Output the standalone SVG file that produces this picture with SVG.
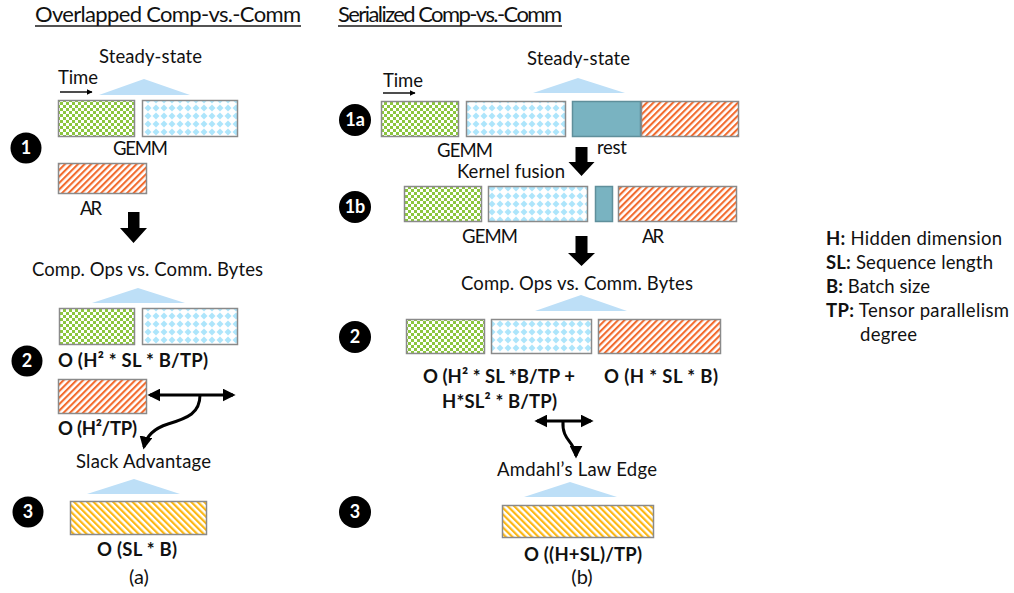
<svg xmlns="http://www.w3.org/2000/svg" width="1014" height="593" viewBox="0 0 1014 593">
<style>
text{font-family:Lato,"Liberation Sans",sans-serif;fill:#111}
.t{font-size:18.5px}
.title{font-size:22px}
.b{font-size:18.5px;font-weight:bold}
.lbl{font-size:20px;text-anchor:middle}
.num{font-size:18px;font-weight:bold;fill:#fff;text-anchor:middle}
.box{stroke:#8a8a8a;stroke-width:1.5}
.tri{fill:#bddff7}
.big{fill:#000}
.conn{fill:none;stroke:#000;stroke-width:3}
.ul{stroke:#1a1a1a;stroke-width:1.3}
</style>
<defs>
<pattern id="chk" width="6" height="6" patternUnits="userSpaceOnUse">
<rect width="6" height="6" fill="#fff"/>
<rect width="3" height="3" fill="#8cc63f"/>
<rect x="3" y="3" width="3" height="3" fill="#8cc63f"/>
</pattern>
<pattern id="dia" width="8" height="8" patternUnits="userSpaceOnUse">
<rect width="8" height="8" fill="#fff"/>
<polygon points="4,0.5 7.5,4 4,7.5 0.5,4" fill="#ade5fb"/>
</pattern>
<pattern id="orn" width="4.6" height="10" patternUnits="userSpaceOnUse" patternTransform="rotate(45)">
<rect width="4.6" height="10" fill="#fff"/>
<rect width="2.1" height="10" fill="#f26b2e"/>
</pattern>
<pattern id="yel" width="4.6" height="10" patternUnits="userSpaceOnUse" patternTransform="rotate(-45)">
<rect width="4.6" height="10" fill="#fff"/>
<rect width="2.2" height="10" fill="#fbb714"/>
</pattern>
<marker id="ah" viewBox="0 0 10 10" refX="8" refY="5" markerWidth="13" markerHeight="13" markerUnits="userSpaceOnUse" orient="auto-start-reverse"><path d="M0,0 L10,5 L0,10 Z" fill="#000"/></marker>
<marker id="ahs" viewBox="0 0 10 10" refX="9" refY="5" markerWidth="6" markerHeight="6" markerUnits="userSpaceOnUse" orient="auto"><path d="M0,0 L10,5 L0,10 Z" fill="#000"/></marker>
</defs>
<rect width="1014" height="593" fill="#fff"/>

<!-- Left panel -->
<g id="title-left">
<text class="title" x="35" y="22" textLength="266">Overlapped Comp-vs.-Comm</text>
<line class="ul" x1="35" y1="26" x2="301" y2="26"/>
</g>
<g id="left-step1">
<circle cx="26" cy="148" r="15.5" fill="#000"/>
<text class="num" x="26" y="154">1</text>
<text class="t" x="99" y="63" textLength="103">Steady-state</text>
<text class="t" x="58" y="84" textLength="40">Time</text>
<polygon class="tri" points="99,95 144,79 190,95"/>
<rect class="box" x="58.5" y="100.5" width="76" height="36" fill="url(#chk)"/>
<rect class="box" x="142.5" y="100.5" width="95" height="36" fill="url(#dia)"/>
<text class="t" x="113" y="155" textLength="55">GEMM</text>
<rect class="box" x="58.5" y="163.5" width="88" height="30" fill="url(#orn)"/>
<text class="t" x="80" y="215" textLength="22">AR</text>
</g>
<g id="left-step2">
<circle cx="27" cy="361" r="15.5" fill="#000"/>
<text class="num" x="27" y="367">2</text>
<text class="t" x="32" y="276" textLength="231">Comp. Ops vs. Comm. Bytes</text>
<polygon class="tri" points="92,303 138,288 185,303"/>
<rect class="box" x="59.5" y="308.5" width="75" height="36" fill="url(#chk)"/>
<rect class="box" x="142.5" y="308.5" width="95" height="36" fill="url(#dia)"/>
<text class="b" x="58" y="367" textLength="150">O (H² * SL * B/TP)</text>
<rect class="box" x="58.5" y="379.5" width="88" height="34" fill="url(#orn)"/>
<text class="b" x="58" y="435" textLength="79">O (H²/TP)</text>
<text class="t" x="76" y="468" textLength="135">Slack Advantage</text>
</g>
<g id="left-step3">
<circle cx="28" cy="512" r="15.5" fill="#000"/>
<text class="num" x="28" y="518">3</text>
<polygon class="tri" points="87,494 134,479 180,494"/>
<rect class="box" x="70.5" y="501.5" width="136" height="33" fill="url(#yel)"/>
<text class="b" x="97" y="556" textLength="80">O (SL * B)</text>
<text class="lbl" x="139" y="584">(a)</text>
</g>

<!-- Right panel -->
<g id="title-right">
<text class="title" x="338" y="22" textLength="224">Serialized Comp-vs.-Comm</text>
<line class="ul" x1="338" y1="26" x2="562" y2="26"/>
</g>
<g id="right-step1a">
<circle cx="355" cy="120" r="16" fill="#000"/>
<text class="num" x="355" y="126">1a</text>
<text class="t" x="527" y="65" textLength="103">Steady-state</text>
<text class="t" x="383" y="87" textLength="40">Time</text>
<polygon class="tri" points="533,93 578,78 625,93"/>
<rect class="box" x="381.5" y="101.5" width="77" height="35" fill="url(#chk)"/>
<rect class="box" x="466.5" y="101.5" width="99" height="35" fill="url(#dia)"/>
<rect x="572.5" y="101.5" width="68" height="35" fill="#79b3c1" stroke="#5f8f9b" stroke-width="1.5"/>
<rect class="box" x="641.5" y="101.5" width="97" height="35" fill="url(#orn)"/>
<text class="t" x="437" y="157" textLength="56">GEMM</text>
<text class="t" x="597" y="154" textLength="30">rest</text>
<text class="t" x="457" y="178" textLength="108">Kernel fusion</text>
</g>
<g id="right-step1b">
<circle cx="355" cy="207" r="16" fill="#000"/>
<text class="num" x="355" y="213">1b</text>
<rect class="box" x="404.5" y="186.5" width="77" height="35" fill="url(#chk)"/>
<rect class="box" x="488.5" y="186.5" width="99" height="35" fill="url(#dia)"/>
<rect x="595.5" y="186.5" width="17" height="35" fill="#79b3c1" stroke="#5f8f9b" stroke-width="1.5"/>
<rect class="box" x="618.5" y="186.5" width="118" height="35" fill="url(#orn)"/>
<text class="t" x="462" y="243" textLength="56">GEMM</text>
<text class="t" x="642" y="243" textLength="22">AR</text>
</g>
<g id="right-step2">
<circle cx="355" cy="337" r="16" fill="#000"/>
<text class="num" x="355" y="343">2</text>
<text class="t" x="461" y="290" textLength="232">Comp. Ops vs. Comm. Bytes</text>
<polygon class="tri" points="535,311 581,295 627,311"/>
<rect class="box" x="406.5" y="319.5" width="78" height="34" fill="url(#chk)"/>
<rect class="box" x="491.5" y="319.5" width="100" height="34" fill="url(#dia)"/>
<rect class="box" x="598.5" y="319.5" width="122" height="34" fill="url(#orn)"/>
<text class="b" x="423" y="383" textLength="152">O (H² * SL *B/TP +</text>
<text class="b" x="442" y="408" textLength="115">H*SL² * B/TP)</text>
<text class="b" x="604" y="383" textLength="114">O (H * SL * B)</text>
<text class="t" x="497" y="476" textLength="160">Amdahl’s Law Edge</text>
</g>
<g id="right-step3">
<circle cx="355" cy="512" r="16" fill="#000"/>
<text class="num" x="355" y="518">3</text>
<polygon class="tri" points="524,497 570,482 617,497"/>
<rect class="box" x="502.5" y="505.5" width="151" height="32" fill="url(#yel)"/>
<text class="b" x="524" y="561" textLength="118">O ((H+SL)/TP)</text>
<text class="lbl" x="582" y="584">(b)</text>
</g>

<!-- Legend -->
<g id="legend">
<text class="t" x="826" y="245" textLength="176"><tspan font-weight="bold">H:</tspan> Hidden dimension</text>
<text class="t" x="826" y="269" textLength="167"><tspan font-weight="bold">SL:</tspan> Sequence length</text>
<text class="t" x="826" y="293" textLength="104"><tspan font-weight="bold">B:</tspan> Batch size</text>
<text class="t" x="826" y="317" textLength="183"><tspan font-weight="bold">TP:</tspan> Tensor parallelism</text>
<text class="t" x="860" y="341" textLength="57">degree</text>
</g>

<!-- Connectors -->
<g id="connectors">
<line x1="60" y1="92" x2="92" y2="92" stroke="#000" stroke-width="1.4" marker-end="url(#ahs)"/>
<line x1="383" y1="93" x2="415" y2="93" stroke="#000" stroke-width="1.4" marker-end="url(#ahs)"/>
<polygon class="big" points="128,212 139.5,212 139.5,228 147,228 133.5,243 120,228 128,228"/>
<polygon class="big" points="575.5,147 587.5,147 587.5,162 594.5,162 581.5,176 568.5,162 575.5,162"/>
<polygon class="big" points="575.5,236 587.5,236 587.5,253 595,253 581.5,266 568,253 575.5,253"/>
<line class="conn" x1="150" y1="395" x2="233" y2="395" marker-start="url(#ah)" marker-end="url(#ah)"/>
<path class="conn" d="M200,395 C200,413 188,418 168,424 C152,429 146,437 144,447" marker-end="url(#ah)"/>
<line class="conn" x1="537" y1="421" x2="591" y2="421" marker-start="url(#ah)" marker-end="url(#ah)"/>
<path class="conn" d="M563,421 C562,437 570,440 573,447 C575,451 576,453 576,456" marker-end="url(#ah)"/>
</g>
</svg>
